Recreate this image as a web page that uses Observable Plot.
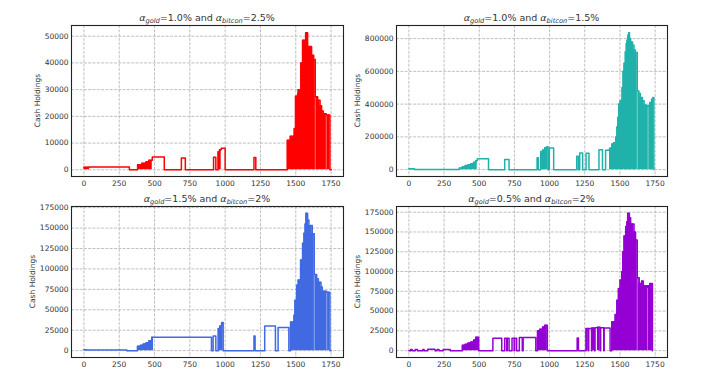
<!DOCTYPE html>
<html><head><meta charset="utf-8">
<script src="https://cdn.jsdelivr.net/npm/d3@7"></script>
<script src="https://cdn.jsdelivr.net/npm/@observablehq/plot@0.6"></script>
<style>
html,body{margin:0;padding:0;background:#fff;}
#fig{position:relative;width:712px;height:379px;overflow:hidden;font-family:"DejaVu Sans",sans-serif;background:#fff;}
.panel{position:absolute;}
.title{position:absolute;font-size:9.5px;color:#333;white-space:nowrap;transform:translate(-50%,-50%);line-height:1;}
.title sub{font-size:70%;vertical-align:baseline;position:relative;top:0.35em;}
</style></head><body><div id="fig"></div><script>
// ---- data ----
const xTicks = [0, 250, 500, 750, 1000, 1250, 1500, 1750];
const goldPct = ["1.0%", "1.0%", "1.5%", "0.5%"];
const bitconPct = ["2.5%", "1.5%", "2%", "2%"];
const yLabel = "Cash Holdings";

// panel 1 (red): step breakpoints, value, dense(1 = rapidly oscillating, drawn filled)
const redX = [0, 40, 322, 380, 410, 440, 460, 484, 569, 690, 718, 918, 934, 950, 960, 972, 1000, 1204, 1217, 1440, 1461, 1489, 1498, 1513, 1517, 1536, 1548, 1570, 1584, 1612, 1627, 1638, 1655, 1672, 1683, 1695, 1716, 1742, 1752];
const redY = [1000, 1100, 0, 1900, 2500, 3000, 3600, 4800, 0, 4400, 0, 4700, 0, 6800, 7500, 8100, 0, 4600, 0, 11100, 12600, 15500, 27500, 28500, 30000, 40000, 48500, 51300, 46100, 42900, 41300, 27300, 26000, 24000, 22000, 21000, 20500, 0, 0];
const redDense = [1,0,0,1,1,1,1,0,0,0, 0,0,0,1,1,0,0,0,0,1, 1,1,1,1,1,1,1,1,1,1, 1,1,1,1,1,1,1,0,0];
const redGaps = [1638, 1716];
const redTicks = [0, 10000, 20000, 30000, 40000, 50000];

// panel 2 (teal)
const tealX = [0, 40, 359, 380, 400, 420, 440, 460, 475, 486, 566, 681, 712, 911, 920, 937, 950, 965, 980, 989, 998, 1029, 1193, 1205, 1214, 1235, 1259, 1280, 1351, 1376, 1398, 1426, 1442, 1454, 1470, 1478, 1485, 1492, 1501, 1515, 1522, 1529, 1538, 1545, 1550, 1556, 1562, 1568, 1576, 1590, 1600, 1610, 1623, 1635, 1645, 1660, 1672, 1688, 1700, 1712, 1725, 1735, 1741];
const tealY = [5000, 1000, 10000, 18000, 25000, 30000, 36000, 45000, 55000, 66000, 0, 62000, 0, 72000, 0, 110000, 120000, 133000, 140000, 0, 132000, 0, 82000, 0, 101000, 0, 100000, 0, 121000, 0, 118000, 130000, 156000, 164000, 200000, 260000, 320000, 400000, 420000, 500000, 600000, 650000, 720000, 770000, 790000, 820000, 836000, 800000, 780000, 760000, 730000, 715000, 480000, 465000, 440000, 420000, 395000, 385000, 392000, 410000, 430000, 440000, 0];
const tealDense = [1,0,1,1,1,1,1,1,1,0, 0,0,0,0,0,1,1,1,1,0, 0,0,0,0,0,0,0,0,0,0, 0,1,1,1,1,1,1,1,1,1, 1,1,1,1,1,1,1,1,1,1, 1,1,1,1,1,1,1,1,1,1, 1,1,0];
const tealGaps = [1623, 1700];
const tealTicks = [0, 200000, 400000, 600000, 800000];

// panel 3 (blue)
const blueX = [0, 20, 303, 379, 400, 420, 440, 460, 480, 493, 903, 915, 934, 951, 962, 975, 986, 1204, 1212, 1280, 1356, 1375, 1451, 1463, 1487, 1494, 1506, 1517, 1534, 1548, 1558, 1566, 1572, 1584, 1593, 1617, 1631, 1648, 1660, 1679, 1688, 1719, 1742, 1750];
const blueY = [1000, 800, 0, 5300, 6500, 8000, 9800, 12000, 16400, 16400, 0, 18000, 0, 27000, 30000, 34300, 0, 18000, 0, 30300, 0, 28200, 0, 35100, 43300, 61700, 80100, 86300, 110800, 131300, 143600, 155000, 168000, 160000, 153000, 143000, 93200, 88000, 83800, 78000, 72800, 71500, 0, 0];
const blueDense = [1,0,0,1,1,1,1,1,1,0, 0,0,0,1,1,1,0,0,0,0, 0,0,0,1,1,1,1,1,1,1, 1,1,1,1,1,1,1,1,1,1, 1,1,0,0];
const blueGaps = [1631, 1719];
const blueTicks = [0, 25000, 50000, 75000, 100000, 125000, 150000, 175000];

// panel 4 (purple)
const purpleX = [0, 12, 23, 45, 61, 99, 108, 134, 186, 200, 214, 244, 294, 380, 400, 420, 440, 460, 475, 496, 597, 660, 681, 695, 699, 712, 733, 748, 752, 766, 785, 806, 812, 902, 914, 930, 950, 965, 984, 1196, 1205, 1259, 1275, 1278, 1298, 1300, 1320, 1323, 1340, 1360, 1363, 1385, 1388, 1430, 1442, 1466, 1478, 1489, 1501, 1513, 1520, 1529, 1541, 1549, 1555, 1567, 1576, 1600, 1611, 1623, 1637, 1654, 1666, 1689, 1696, 1712, 1731];
const purpleY = [0, 1500, 0, 1500, 0, 1500, 0, 1800, 0, 1500, 0, 1500, 0, 6800, 8000, 9500, 11000, 13500, 16900, 0, 15600, 0, 15600, 0, 15600, 0, 15600, 0, 15600, 0, 16500, 0, 16500, 0, 25000, 27000, 30000, 32000, 0, 16000, 0, 28000, 0, 28000, 0, 28500, 0, 29000, 29500, 0, 29000, 0, 28500, 0, 36400, 45600, 63800, 78600, 89200, 99800, 125000, 145000, 157000, 163000, 173700, 168000, 160200, 150000, 140000, 92000, 85000, 88000, 82000, 80000, 82000, 85000, 0];
const purpleDense = [0,0,0,0,0,0,0,0,0,0, 0,0,0,1,1,1,1,1,1,0, 0,0,0,0,0,0,0,0,0,0, 0,0,0,0,1,1,1,1,0,0, 0,1,0,0,0,1,0,0,1,0, 0,0,0,0,1,1,1,1,1,1, 1,1,1,1,1,1,1,1,1,1, 1,1,1,1,1,1,0];
const purpleGaps = [1623, 1696];
const purpleTicks = [0, 25000, 50000, 75000, 100000, 125000, 150000, 175000];

// ---- layout ----
const xDomain = [-88, 1838];
const panels = [
  {x: redX, y: redY, dense: redDense, gaps: redGaps, ticks: redTicks, color: "#ff0000", yDomain: [-2500, 54000],
   left: 0, top: 0, w: 356, h: 190, ml: 71, mr: 13, mt: 25, mb: 14, labelX: 37, titleX: 207, titleY: 18},
  {x: tealX, y: tealY, dense: tealDense, gaps: tealGaps, ticks: tealTicks, color: "#20b2aa", yDomain: [-41900, 880000],
   left: 356, top: 0, w: 356, h: 190, ml: 40, mr: 45, mt: 25, mb: 14, labelX: 357, titleX: 531.5, titleY: 18},
  {x: blueX, y: blueY, dense: blueDense, gaps: blueGaps, ticks: blueTicks, color: "#4169e1", yDomain: [-8400, 176400],
   left: 0, top: 190, w: 356, h: 189, ml: 71, mr: 13, mt: 16, mb: 22, labelX: 32, titleX: 207, titleY: 199},
  {x: purpleX, y: purpleY, dense: purpleDense, gaps: purpleGaps, ticks: purpleTicks, color: "#9400d3", yDomain: [-8675, 182200],
   left: 356, top: 190, w: 356, h: 189, ml: 40, mr: 45, mt: 16, mb: 22, labelX: 357, titleX: 531.5, titleY: 199}
];

const fig = document.getElementById("fig");
const gridStyle = {stroke: "#b0b0b0", strokeOpacity: 1, strokeWidth: 0.8, strokeDasharray: "3,1.3"};

panels.forEach((p, k) => {
  const data = p.x.map((x, i) => ({x, y: p.y[i], dense: p.dense[i]}));
  const gaps = p.gaps.map(g => {
    const i = p.x.indexOf(g);
    return {x: g, y: Math.min(p.y[i - 1], p.y[i])};
  });
  const svg = Plot.plot({
    width: p.w, height: p.h,
    marginLeft: p.ml, marginRight: p.mr, marginTop: p.mt, marginBottom: p.mb,
    style: {background: "transparent", overflow: "visible", fontFamily: "DejaVu Sans, sans-serif", fontSize: "7.5px"},
    x: {domain: xDomain},
    y: {domain: p.yDomain},
    marks: [
      Plot.gridX({ticks: xTicks, ...gridStyle}),
      Plot.gridY({ticks: p.ticks, ...gridStyle}),
      Plot.areaY(data, {x: "x", y: d => d.dense ? d.y : 0, curve: "step-after", fill: p.color}),
      Plot.ruleX(gaps, {x: "x", y1: 0, y2: "y", stroke: "white", strokeOpacity: 0.5, strokeWidth: 0.8}),
      Plot.line(data, {x: "x", y: "y", curve: "step-after", stroke: p.color, strokeWidth: 1.5}),
      Plot.axisX({ticks: xTicks, tickSize: 0, tickPadding: 4, label: null, color: "#333", fontSize: 7.5, tickFormat: d => String(d)}),
      Plot.axisY({ticks: p.ticks, tickSize: 0, tickPadding: 3, label: null, color: "#333", fontSize: 7.5, tickFormat: d => String(d)}),
      Plot.frame({stroke: "#222", strokeWidth: 1.1})
    ]
  });
  const box = document.createElement("div");
  box.className = "panel";
  box.style.left = p.left + "px";
  box.style.top = p.top + "px";
  box.style.width = p.w + "px";
  box.style.height = p.h + "px";
  box.appendChild(svg);
  fig.appendChild(box);

  const midY = p.mt + (p.h - p.mt - p.mb) / 2;
  d3.select(svg).append("text")
    .attr("transform", `translate(${p.labelX - p.left},${midY}) rotate(-90)`)
    .attr("text-anchor", "middle")
    .attr("dy", "0.35em")
    .attr("fill", "#333")
    .style("font-size", "7.5px")
    .style("font-family", "DejaVu Sans, sans-serif")
    .text(yLabel);

  const t = document.createElement("div");
  t.className = "title";
  t.style.left = p.titleX + "px";
  t.style.top = p.titleY + "px";
  t.innerHTML = `<i>α</i><sub><i>gold</i></sub>=${goldPct[k]} and <i>α</i><sub><i>bitcon</i></sub>=${bitconPct[k]}`;
  fig.appendChild(t);
});
</script></body></html>
